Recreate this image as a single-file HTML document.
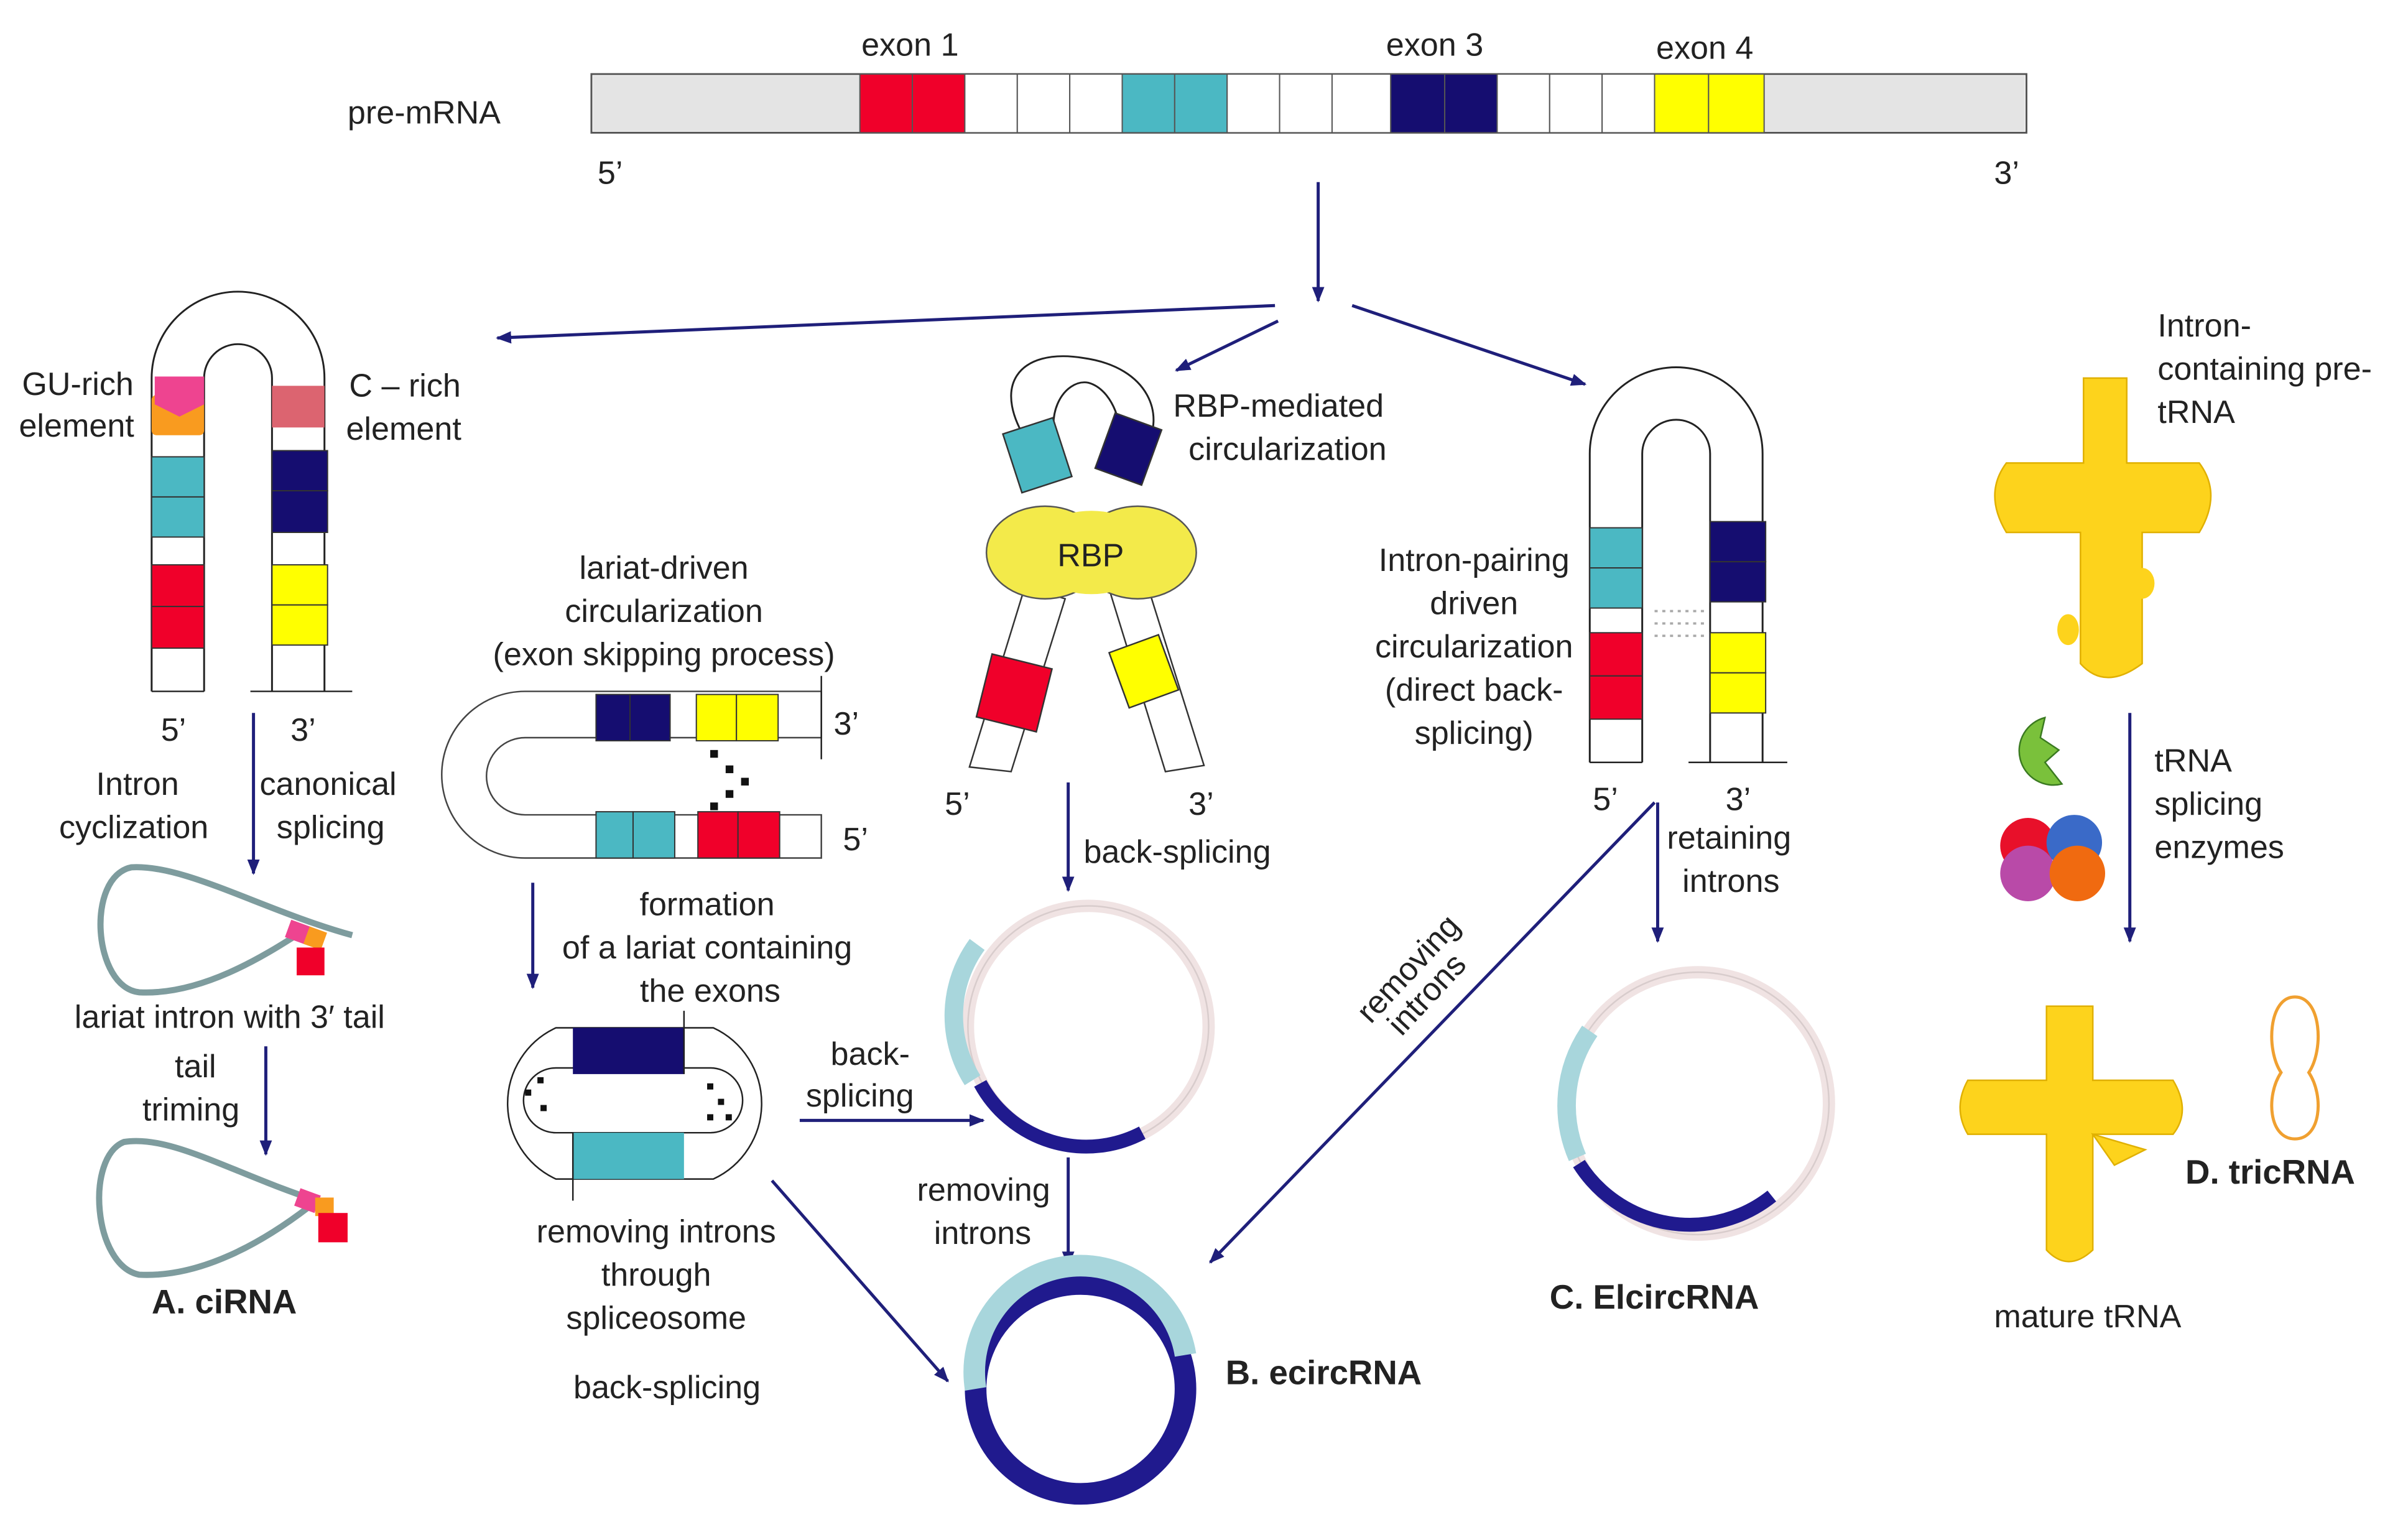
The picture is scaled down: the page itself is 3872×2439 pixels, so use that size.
<!DOCTYPE html>
<html><head><meta charset="utf-8"><style>
html,body{margin:0;padding:0;background:#fff}
svg{display:block}
text{font-family:"Liberation Sans",sans-serif;fill:#222}
</style></head><body>
<svg width="3872" height="2439" viewBox="0 0 1560 983" xmlns="http://www.w3.org/2000/svg">
<defs>
<marker id="ar" markerWidth="10" markerHeight="10" refX="9" refY="5" orient="auto" markerUnits="userSpaceOnUse"><path d="M0,1 L10,5 L0,9 Z" fill="#1f1f7a"/></marker>
</defs>
<g font-size="21">
<!-- pre-mRNA -->
<text x="225" y="80">pre-mRNA</text>
<text x="558" y="36">exon 1</text>
<text x="898" y="36">exon 3</text>
<text x="1073" y="38">exon 4</text>
<text x="387" y="119">5’</text>
<text x="1292" y="119">3’</text>
<rect x="383" y="48" width="930" height="38" fill="#fff" stroke="#555" stroke-width="1.2"/>
<rect x="384" y="49" width="173" height="36" fill="#e4e4e4"/>
<rect x="1143" y="49" width="169" height="36" fill="#e4e4e4"/>
<g stroke="#555" stroke-width="0.8">
<rect x="557" y="48" width="34" height="38" fill="#f0002a"/><rect x="591" y="48" width="34" height="38" fill="#f0002a"/>
<rect x="625" y="48" width="34" height="38" fill="#fff"/><rect x="659" y="48" width="34" height="38" fill="#fff"/><rect x="693" y="48" width="34" height="38" fill="#fff"/>
<rect x="727" y="48" width="34" height="38" fill="#4bb8c3"/><rect x="761" y="48" width="34" height="38" fill="#4bb8c3"/>
<rect x="795" y="48" width="34" height="38" fill="#fff"/><rect x="829" y="48" width="34" height="38" fill="#fff"/><rect x="863" y="48" width="38" height="38" fill="#fff"/>
<rect x="901" y="48" width="35" height="38" fill="#150d70"/><rect x="936" y="48" width="34" height="38" fill="#150d70"/>
<rect x="970" y="48" width="34" height="38" fill="#fff"/><rect x="1004" y="48" width="34" height="38" fill="#fff"/><rect x="1038" y="48" width="34" height="38" fill="#fff"/>
<rect x="1072" y="48" width="35" height="38" fill="#ffff00"/><rect x="1107" y="48" width="36" height="38" fill="#ffff00"/>
</g>
<!-- arrows -->
<g stroke="#1f1f7a" stroke-width="2" fill="none" marker-end="url(#ar)">
<line x1="854" y1="118" x2="854" y2="195"/>
<line x1="826" y1="198" x2="322" y2="219"/>
<line x1="828" y1="208" x2="762" y2="240"/>
<line x1="876" y1="198" x2="1027" y2="249"/>
<line x1="164" y1="462" x2="164" y2="566"/>
<line x1="172" y1="678" x2="172" y2="748"/>
<line x1="345" y1="572" x2="345" y2="640"/>
<line x1="518" y1="726" x2="637" y2="726"/>
<line x1="500" y1="765" x2="614" y2="895"/>
<line x1="692" y1="507" x2="692" y2="577"/>
<line x1="692" y1="750" x2="692" y2="820"/>
<line x1="1072" y1="520" x2="784" y2="818"/>
<line x1="1074" y1="520" x2="1074" y2="610"/>
<line x1="1380" y1="462" x2="1380" y2="610"/>
</g>
<!-- A hairpin -->
<path d="M98,448 V245 A56,56 0 0 1 210,245 V448" fill="none" stroke="#222" stroke-width="1.2"/>
<path d="M132,448 V245 A22,22 0 0 1 176,245 V448" fill="none" stroke="#222" stroke-width="1.2"/>
<line x1="98" y1="448" x2="132" y2="448" stroke="#222"/><line x1="162" y1="448" x2="228" y2="448" stroke="#222"/>
<rect x="98" y="256" width="34" height="26" fill="#f99b1f" rx="3"/>
<path d="M100,244 H132 V262 L116,270 L100,262 Z" fill="#ee4490"/>
<rect x="176" y="250" width="34" height="27" fill="#dc6470"/>
<g stroke="#333" stroke-width="0.8">
<rect x="98" y="296" width="34" height="26" fill="#4bb8c3"/><rect x="98" y="322" width="34" height="26" fill="#4bb8c3"/>
<rect x="98" y="366" width="34" height="27" fill="#f0002a"/><rect x="98" y="393" width="34" height="27" fill="#f0002a"/>
<rect x="176" y="292" width="36" height="26" fill="#150d70"/><rect x="176" y="318" width="36" height="27" fill="#150d70"/>
<rect x="176" y="366" width="36" height="26" fill="#ffff00"/><rect x="176" y="392" width="36" height="26" fill="#ffff00"/>
</g>
<text x="14" y="256">GU-rich</text><text x="12" y="283">element</text>
<text x="226" y="257">C – rich</text><text x="224" y="285">element</text>
<text x="104" y="480">5’</text><text x="188" y="480">3’</text>
<text x="62" y="515">Intron</text><text x="38" y="543">cyclization</text>
<text x="168" y="515">canonical</text><text x="179" y="543">splicing</text>
<path d="M228,606 C170,590 120,560 85,562 C55,568 60,640 90,643 C130,645 170,620 195,604" fill="none" stroke="#7e9c9e" stroke-width="4"/>
<rect x="186" y="598" width="14" height="12" fill="#ee4490" transform="rotate(20 193 604)"/>
<rect x="198" y="602" width="12" height="12" fill="#f99b1f" transform="rotate(20 204 608)"/>
<rect x="192" y="614" width="18" height="18" fill="#f0002a"/>
<text x="48" y="666">lariat intron with 3′ tail</text>
<text x="113" y="698">tail</text><text x="92" y="726">triming</text>
<path d="M205,778 C150,760 110,735 80,740 C55,750 60,820 90,826 C130,828 170,805 200,782" fill="none" stroke="#7e9c9e" stroke-width="4"/>
<rect x="192" y="772" width="14" height="12" fill="#ee4490" transform="rotate(20 199 778)"/>
<rect x="204" y="776" width="12" height="12" fill="#f99b1f"/>
<rect x="206" y="786" width="19" height="19" fill="#f0002a"/>
<text x="98" y="851" font-weight="bold" font-size="22">A.  ciRNA</text>
<!-- lariat-driven -->
<text x="430" y="375" text-anchor="middle">lariat-driven</text>
<text x="430" y="403" text-anchor="middle">circularization</text>
<text x="430" y="431" text-anchor="middle">(exon skipping process)</text>
<path d="M532,448 H340 A54,54 0 0 0 340,556 H532 V528 H340 A25,25 0 0 1 340,478 H532 Z" fill="#fff" stroke="#444" stroke-width="1"/>
<line x1="532" y1="438" x2="532" y2="492" stroke="#222"/>
<g stroke="#333" stroke-width="0.8">
<rect x="386" y="450" width="22" height="30" fill="#150d70"/><rect x="408" y="450" width="26" height="30" fill="#150d70"/>
<rect x="451" y="450" width="26" height="30" fill="#ffff00"/><rect x="477" y="450" width="27" height="30" fill="#ffff00"/>
<rect x="386" y="526" width="24" height="30" fill="#4bb8c3"/><rect x="410" y="526" width="27" height="30" fill="#4bb8c3"/>
<rect x="452" y="526" width="26" height="30" fill="#f0002a"/><rect x="478" y="526" width="27" height="30" fill="#f0002a"/>
</g>
<g fill="#111"><rect x="460" y="486" width="5" height="5"/><rect x="470" y="496" width="5" height="5"/><rect x="480" y="504" width="5" height="5"/><rect x="470" y="512" width="5" height="5"/><rect x="460" y="520" width="5" height="5"/></g>
<text x="540" y="476">3’</text><text x="546" y="551">5’</text>
<text x="458" y="593" text-anchor="middle">formation</text>
<text x="458" y="621" text-anchor="middle">of a lariat containing</text>
<text x="460" y="649" text-anchor="middle">the exons</text>
<path d="M370,666 H462 A54,54 0 0 1 462,764 H360 A54,54 0 0 1 360,666 Z" fill="none" stroke="#222" stroke-width="1"/>
<path d="M370,692 H460 A20,20 0 0 1 460,734 H360 A20,20 0 0 1 360,692 Z" fill="none" stroke="#222" stroke-width="1"/>
<rect x="371" y="666" width="72" height="30" fill="#150d70"/>
<rect x="371" y="734" width="72" height="30" fill="#4bb8c3"/>
<line x1="443" y1="655" x2="443" y2="696" stroke="#222"/><line x1="371" y1="734" x2="371" y2="778" stroke="#222"/>
<g fill="#111"><rect x="340" y="706" width="4" height="4"/><rect x="348" y="698" width="4" height="4"/><rect x="350" y="716" width="4" height="4"/><rect x="458" y="702" width="4" height="4"/><rect x="465" y="712" width="4" height="4"/><rect x="458" y="722" width="4" height="4"/><rect x="470" y="722" width="4" height="4"/></g>
<text x="538" y="690">back-</text><text x="522" y="717">splicing</text>
<text x="425" y="805" text-anchor="middle">removing introns</text>
<text x="425" y="833" text-anchor="middle">through</text>
<text x="425" y="861" text-anchor="middle">spliceosome</text>
<text x="432" y="906" text-anchor="middle">back-splicing</text>
<!-- RBP -->
<path d="M668,290 C640,250 660,225 702,232 C745,238 755,270 742,290" fill="none" stroke="#222" stroke-width="1.2"/>
<path d="M690,300 C672,270 690,245 705,248 C720,252 730,275 725,300" fill="none" stroke="#222" stroke-width="1.2"/>
<rect x="655" y="275" width="34" height="40" fill="#4bb8c3" stroke="#333" transform="rotate(-18 672 295)"/>
<rect x="715" y="272" width="32" height="38" fill="#150d70" stroke="#333" transform="rotate(20 731 291)"/>
<path d="M628,497 L664,380 L690,388 L655,500 Z" fill="#fff" stroke="#333"/>
<path d="M755,500 L718,380 L742,375 L780,496 Z" fill="#fff" stroke="#333"/>
<rect x="637" y="428" width="40" height="42" fill="#f0002a" stroke="#333" transform="rotate(14 657 449)"/>
<rect x="724" y="416" width="34" height="38" fill="#ffff00" stroke="#333" transform="rotate(-20 741 435)"/>
<ellipse cx="677" cy="358" rx="38" ry="30" fill="#f3ea4a" stroke="#555"/>
<ellipse cx="737" cy="358" rx="38" ry="30" fill="#f3ea4a" stroke="#555"/>
<ellipse cx="707" cy="358" rx="40" ry="27" fill="#f3ea4a"/>
<text x="685" y="367">RBP</text>
<text x="760" y="270">RBP-mediated</text><text x="770" y="298">circularization</text>
<text x="612" y="528">5’</text><text x="770" y="528">3’</text>
<text x="702" y="559">back-splicing</text>
<circle cx="705" cy="665" r="78" fill="none" stroke="#f0e3e3" stroke-width="8"/>
<circle cx="705" cy="665" r="78" fill="none" stroke="#d8cccc" stroke-width="1"/>
<path d="M633,612 A78,78 0 0 0 630,700" fill="none" stroke="#a8d6dc" stroke-width="12"/>
<path d="M635,702 A78,78 0 0 0 740,734" fill="none" stroke="#201a8e" stroke-width="9"/>
<text x="594" y="778">removing</text><text x="605" y="806">introns</text>
<circle cx="700" cy="900" r="68" fill="none" stroke="#201a8e" stroke-width="14"/>
<path d="M632,900 A68,68 0 0 1 768,878" fill="none" stroke="#a8d6dc" stroke-width="14"/>
<text x="794" y="897" font-weight="bold" font-size="22">B.  ecircRNA</text>
<!-- C -->
<path d="M1030,494 V294 A56,56 0 0 1 1142,294 V494" fill="none" stroke="#222" stroke-width="1.2"/>
<path d="M1064,494 V294 A22,22 0 0 1 1108,294 V494" fill="none" stroke="#222" stroke-width="1.2"/>
<line x1="1030" y1="494" x2="1064" y2="494" stroke="#222"/><line x1="1094" y1="494" x2="1158" y2="494" stroke="#222"/>
<g stroke="#333" stroke-width="0.8">
<rect x="1030" y="342" width="34" height="26" fill="#4bb8c3"/><rect x="1030" y="368" width="34" height="26" fill="#4bb8c3"/>
<rect x="1030" y="410" width="34" height="28" fill="#f0002a"/><rect x="1030" y="438" width="34" height="28" fill="#f0002a"/>
<rect x="1108" y="338" width="36" height="26" fill="#150d70"/><rect x="1108" y="364" width="36" height="26" fill="#150d70"/>
<rect x="1108" y="410" width="36" height="26" fill="#ffff00"/><rect x="1108" y="436" width="36" height="26" fill="#ffff00"/>
</g>
<g stroke="#aaa" stroke-width="1.5" stroke-dasharray="2 3"><line x1="1072" y1="396" x2="1106" y2="396"/><line x1="1072" y1="404" x2="1106" y2="404"/><line x1="1072" y1="412" x2="1106" y2="412"/></g>
<text x="955" y="370" text-anchor="middle">Intron-pairing</text>
<text x="955" y="398" text-anchor="middle">driven</text>
<text x="955" y="426" text-anchor="middle">circularization</text>
<text x="955" y="454" text-anchor="middle">(direct back-</text>
<text x="955" y="482" text-anchor="middle">splicing)</text>
<text x="1032" y="525">5’</text><text x="1118" y="525">3’</text>
<text x="1080" y="550">retaining</text><text x="1090" y="578">introns</text>
<text x="0" y="0" transform="translate(888,664) rotate(-47)">removing</text>
<text x="0" y="0" transform="translate(908,672) rotate(-47)">introns</text>
<circle cx="1100" cy="715" r="85" fill="none" stroke="#f0e3e3" stroke-width="8"/>
<circle cx="1100" cy="715" r="85" fill="none" stroke="#d8cccc" stroke-width="1"/>
<path d="M1030,668 A85,85 0 0 0 1022,750" fill="none" stroke="#a8d6dc" stroke-width="12"/>
<path d="M1023,754 A85,85 0 0 0 1148,775" fill="none" stroke="#201a8e" stroke-width="9"/>
<text x="1004" y="848" font-weight="bold" font-size="22">C.  ElcircRNA</text>
<!-- D -->
<text x="1398" y="218">Intron-</text><text x="1398" y="246">containing pre-</text><text x="1398" y="274">tRNA</text>
<path d="M1350,245 H1378 V300 H1425 Q1440,320 1425,345 H1388 V430 Q1364,448 1348,430 V345 H1300 Q1285,320 1300,300 H1350 Z" fill="#fdd31c" stroke="#e0b000"/>
<ellipse cx="1388" cy="378" rx="8" ry="10" fill="#fdd31c"/><ellipse cx="1340" cy="408" rx="7" ry="10" fill="#fdd31c"/>
<path d="M1325,465 A22,22 0 1 0 1336,508 L1325,494 L1334,486 L1322,478 Z" fill="#7ac13b" stroke="#3a7a20"/>
<circle cx="1314" cy="548" r="18" fill="#e8102a"/><circle cx="1344" cy="546" r="18" fill="#3a6ac8"/>
<circle cx="1314" cy="566" r="18" fill="#b94aa8"/><circle cx="1346" cy="566" r="18" fill="#f06a10"/>
<text x="1396" y="500">tRNA</text><text x="1396" y="528">splicing</text><text x="1396" y="556">enzymes</text>
<path d="M1326,652 H1356 V700 H1408 Q1420,720 1408,735 H1356 V810 Q1340,825 1326,810 V735 H1275 Q1265,718 1275,700 H1326 Z" fill="#fdd31c" stroke="#e0b000"/>
<path d="M1356,735 L1390,745 L1370,755 Z" fill="#fdd31c" stroke="#e0b000"/>
<path d="M1487,646 C1470,646 1468,680 1478,695 C1468,710 1470,738 1487,738 C1504,738 1506,710 1496,695 C1506,680 1504,646 1487,646 Z" fill="none" stroke="#f0a030" stroke-width="2"/>
<text x="1416" y="767" font-weight="bold" font-size="22">D.  tricRNA</text>
<text x="1292" y="860">mature tRNA</text>
</g>
</svg>
</body></html>
